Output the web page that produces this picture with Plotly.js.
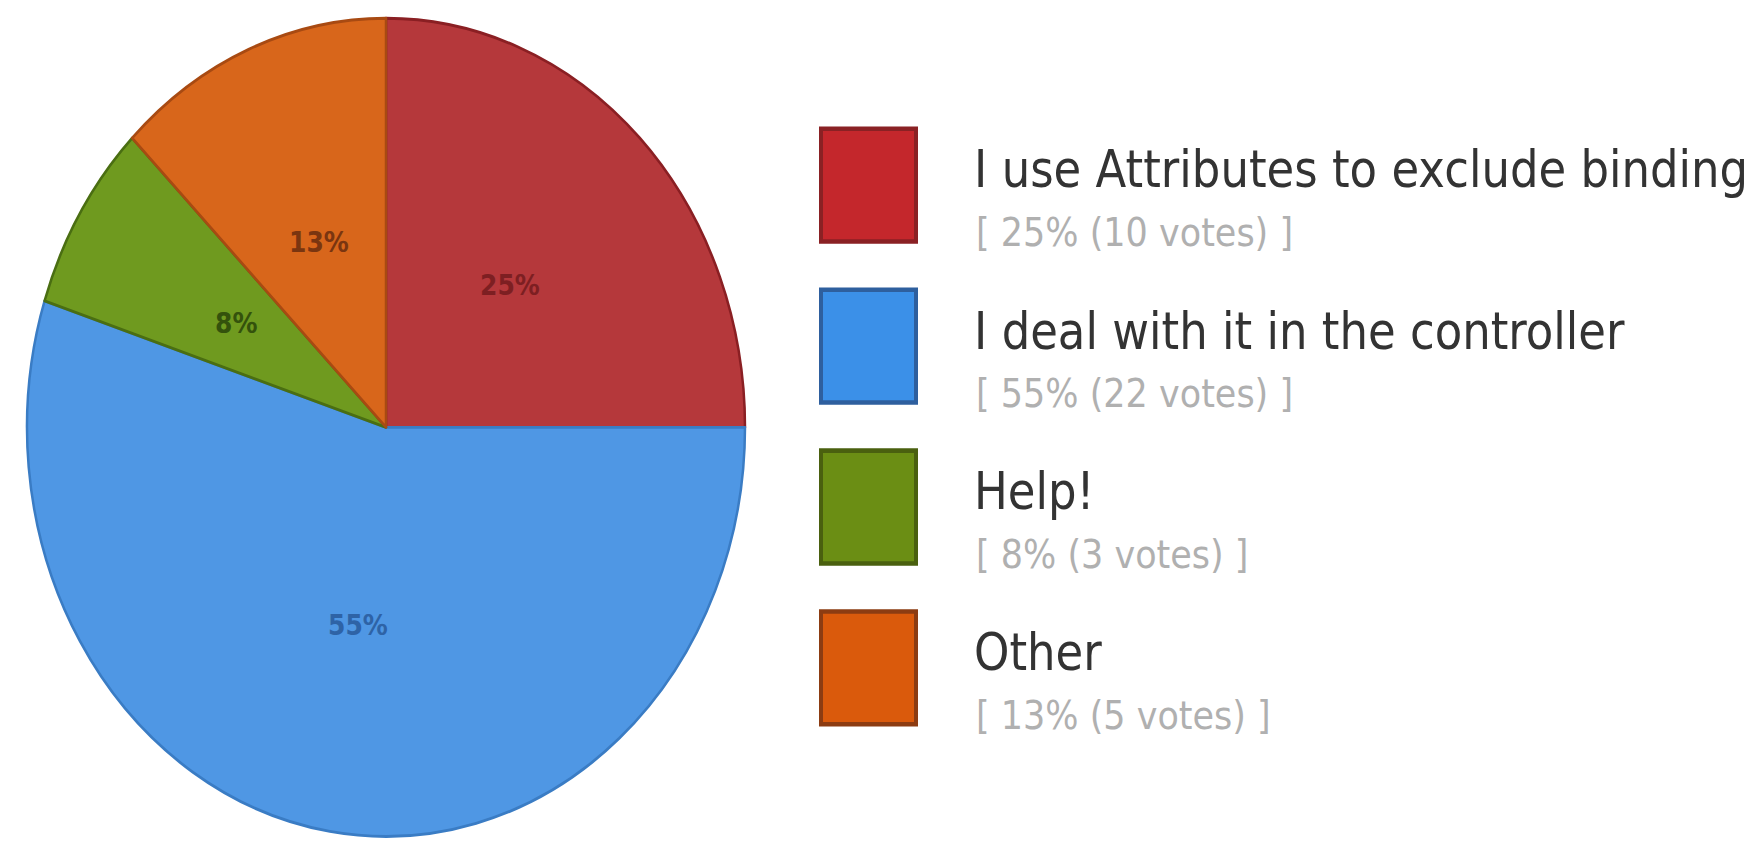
<!DOCTYPE html>
<html>
<head>
<meta charset="utf-8">
<script src="https://cdn.plot.ly/plotly-3.0.1.min.js"></script>
<style>
html,body{margin:0;padding:0;background:#fff;overflow:hidden;}
#wrap{width:1764px;height:841px;overflow:hidden;}
#chart{width:1764px;height:738px;transform:scaleY(1.1396);transform-origin:0 0;}
</style>
</head>
<body>
<div id="wrap"><div id="chart"></div></div>
<script>
// Data
const categories = ["I use Attributes to exclude binding", "I deal with it in the controller", "Help!", "Other"];
const votes = [10, 22, 3, 5];
const sliceColors = ["#B5383B", "#4F97E4", "#6F9A1F", "#D8661B"];
const sliceLineColors = ["#8A1F23", "#3A7CC4", "#4A6E12", "#A84A12"];
const labelColors = ["#7D1F22", "#2E63A6", "#34520C", "#7A3510"];
const swatchColors = ["#C4272C", "#3B90E8", "#6B8E14", "#DA5A0C"];
const swatchBorders = ["#8A2124", "#2E5F9E", "#4A600F", "#8C3C12"];

const total = votes.reduce((a, b) => a + b, 0);
const pct = votes.map(v => Math.round(100 * v / total));

const W = 1764, H = 738;
const px = x => x / W;
const py = y => 1 - y / H;

// pie geometry (unstretched pixels)
const pieL = 27, pieR = 745, pieT = 16, pieB = 734;
const cx = (pieL + pieR) / 2, cy = (pieT + pieB) / 2, R = (pieR - pieL) / 2;

const pie = {
  type: "pie",
  values: votes,
  labels: categories,
  textinfo: "none",
  sort: false,
  direction: "clockwise",
  rotation: 0,
  marker: {colors: sliceColors, line: {color: sliceLineColors, width: 2.5}},
  domain: {x: [px(pieL), px(pieR)], y: [py(pieB), py(pieT)]},
  showlegend: false,
  hoverinfo: "label+percent"
};

const shapes = [];
const annotations = [];

// slice percentage labels placed on each slice's bisector
let cum = 0;
votes.forEach((v, i) => {
  const a = 2 * Math.PI * (cum + v / 2) / total;
  cum += v;
  const k = 0.49;
  annotations.push({
    xref: "paper", yref: "paper",
    x: px(cx + k * R * Math.sin(a)), y: py(cy - k * R * Math.cos(a)),
    xanchor: "center", yanchor: "middle", showarrow: false,
    text: "<b>" + pct[i] + "%</b>",
    font: {family: "DejaVu Sans", size: 25, color: labelColors[i]}
  });
});

// legend drawn as swatches + text
const top0 = 113, step = 141.2, sq = 99;
categories.forEach((c, i) => {
  const t = top0 + i * step;
  shapes.push({
    type: "rect", xref: "paper", yref: "paper",
    x0: px(821), x1: px(916), y0: py(t + sq), y1: py(t),
    fillcolor: swatchColors[i], line: {color: swatchBorders[i], width: 4}
  });
  annotations.push({
    xref: "paper", yref: "paper", x: px(972), y: py(t + 36),
    xanchor: "left", yanchor: "middle", showarrow: false,
    text: c, font: {family: "DejaVu Sans", size: 45, color: "#333333"}
  });
  annotations.push({
    xref: "paper", yref: "paper", x: px(974), y: py(t + 91),
    xanchor: "left", yanchor: "middle", showarrow: false,
    text: "[ " + pct[i] + "% (" + votes[i] + " votes) ]",
    font: {family: "DejaVu Sans", size: 35, color: "#b0b0b0"}
  });
});

const layout = {
  width: W, height: H,
  margin: {l: 0, r: 0, t: 0, b: 0},
  paper_bgcolor: "#ffffff",
  plot_bgcolor: "#ffffff",
  shapes: shapes,
  annotations: annotations,
  showlegend: false
};

Plotly.newPlot("chart", [pie], layout, {displayModeBar: false, staticPlot: true});
</script>
</body>
</html>
